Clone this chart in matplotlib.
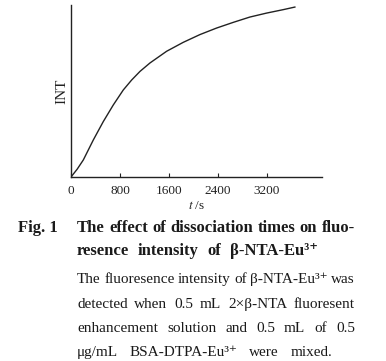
import matplotlib
matplotlib.use('Agg')
import matplotlib.pyplot as plt

plt.rcParams['font.family'] = ['Liberation Serif', 'DejaVu Serif']
plt.rcParams['mathtext.fontset'] = 'stix'

# data (t in s, intensity in arbitrary units)
t = [0, 100, 201, 364, 527, 691, 854, 991, 1127, 1290, 1562,
     1834, 2106, 2378, 2650, 2922, 3195, 3467, 3657]
intensity = [0, 4.5, 9.9, 21.5, 32.2, 41.9, 50.6, 56.4, 61.4, 66.3, 73.1,
             78.3, 82.8, 86.6, 89.9, 93.0, 95.3, 97.3, 98.8]
xticks = [0, 800, 1600, 2400, 3200]

title_lines = ['The effect of dissociation times on fluo-',
               'resence intensity of β-NTA-Eu³⁺']
note_lines = ['The fluoresence intensity of β-NTA-Eu³⁺ was',
              'detected when 0.5 mL 2×β-NTA fluoresent',
              'enhancement solution and 0.5 mL of 0.5',
              'μg/mL BSA-DTPA-Eu³⁺ were mixed.']

W, H = 386, 361
fig = plt.figure(figsize=(W / 100, H / 100), dpi=100)
ax = fig.add_axes([71 / W, 1 - 177 / H, (322 - 71) / W, (177 - 5) / H])

ax.plot(t, intensity, color='#222222', lw=1.0)
ax.set_xlim(0, 4100)
ax.set_ylim(0, 100)
ax.spines['top'].set_visible(False)
ax.spines['right'].set_visible(False)
for s in ['left', 'bottom']:
    ax.spines[s].set_color('#222222')
    ax.spines[s].set_linewidth(1.0)
ax.set_yticks([])
ax.set_xticks(xticks)
ax.set_xticklabels([str(v) for v in xticks])
ax.tick_params(axis='x', direction='in', length=3, width=0.8,
               labelsize=9.5, pad=6, colors='#222222')
ax.set_xlabel('$t$ /s', fontsize=9.5, labelpad=2, color='#222222')
ax.set_ylabel('INT', fontsize=11, labelpad=2, color='#222222')


def justified(words, x0, x1, y, bold=False):
    # spread the words of one caption line between x0 and x1 (pixels)
    r = fig.canvas.get_renderer()
    objs = []
    for w in words:
        tx = fig.text(0, 1 - y / H, w, fontsize=12 if bold else 11,
                      fontweight='bold' if bold else 'normal',
                      va='baseline', ha='left', color='#1a1a1a')
        objs.append(tx)
    widths = [o.get_window_extent(r).width for o in objs]
    gap = max(3, (x1 - x0 - sum(widths)) / (len(words) - 1))
    x = x0
    for o, wd in zip(objs, widths):
        o.set_x(x / W)
        x += wd + gap


fig.text(18 / W, 1 - 232 / H, 'Fig. 1', fontsize=12, fontweight='bold',
         va='baseline', ha='left', color='#1a1a1a')
justified(title_lines[0].split(), 77, 355, 232, bold=True)
justified(title_lines[1].split(), 77, 318, 255, bold=True)
ys = [283, 308, 332, 356]
ends = [355, 355, 355, 332]
for ln, y, x1 in zip(note_lines, ys, ends):
    justified(ln.split(), 77, x1, y)

fig.savefig('out.png', dpi=100)
